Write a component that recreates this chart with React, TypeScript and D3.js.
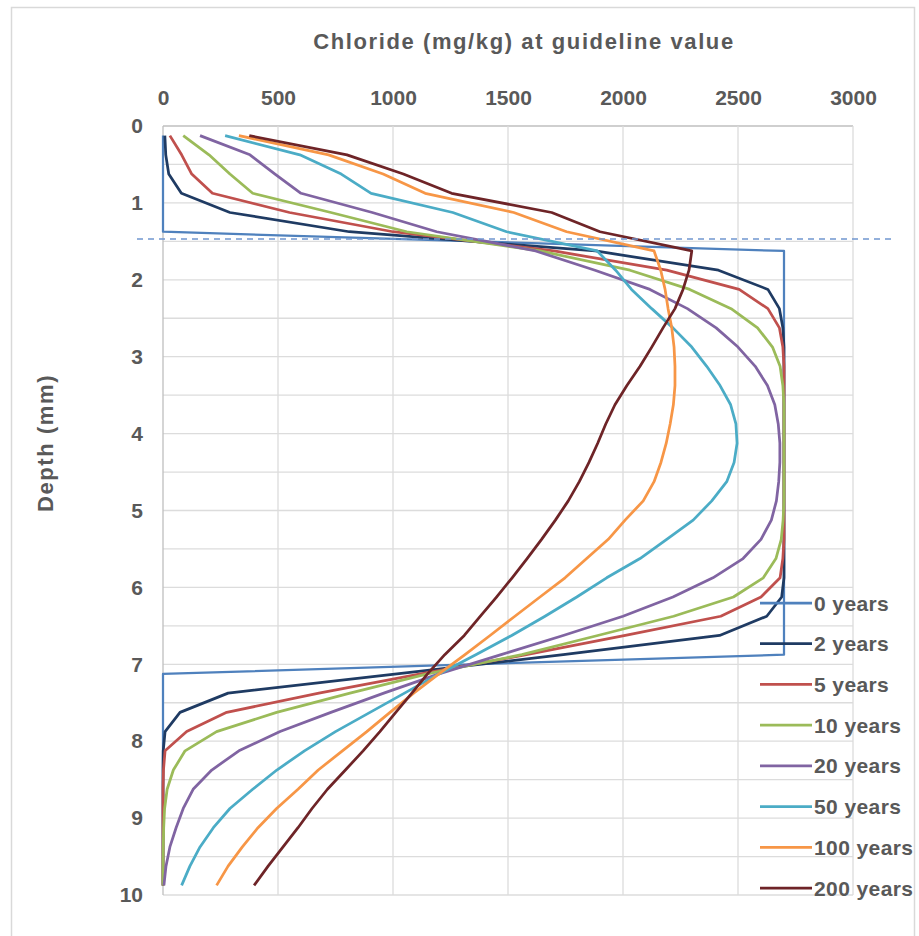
import React, { useRef, useEffect } from "react";
import * as d3 from "d3";

// depth of each calculated layer (mm)
const depths = [
  0.125, 0.375, 0.625, 0.875, 1.125, 1.375, 1.625, 1.875, 2.125, 2.375,
  2.625, 2.875, 3.125, 3.375, 3.625, 3.875, 4.125, 4.375, 4.625, 4.875,
  5.125, 5.375, 5.625, 5.875, 6.125, 6.375, 6.625, 6.875, 7.125, 7.375,
  7.625, 7.875, 8.125, 8.375, 8.625, 8.875, 9.125, 9.375, 9.625, 9.875,
];

// chloride (mg/kg) per layer
const years0 = [
  0, 0, 0, 0, 0, 0, 2700, 2700, 2700, 2700,
  2700, 2700, 2700, 2700, 2700, 2700, 2700, 2700, 2700, 2700,
  2700, 2700, 2700, 2700, 2700, 2700, 2700, 2700, 0, 0,
  0, 0, 0, 0, 0, 0, 0, 0, 0, 0,
];
const years2 = [
  8, 12, 25, 80, 291, 810, 1880, 2415, 2630, 2680,
  2695, 2700, 2700, 2700, 2700, 2700, 2700, 2700, 2700, 2700,
  2700, 2700, 2700, 2700, 2690, 2625, 2420, 1740, 1017, 283,
  74, 9, 1, 0, 0, 0, 0, 0, 0, 0,
];
const years5 = [
  30, 81, 125, 215, 550, 1000, 1700, 2190, 2505, 2630,
  2680, 2695, 2700, 2700, 2700, 2700, 2700, 2700, 2700, 2700,
  2700, 2700, 2695, 2683, 2600, 2425, 2010, 1580, 1120, 678,
  277, 103, 9, 2, 0, 0, 0, 0, 0, 0,
];
const years10 = [
  88, 200, 291, 390, 730, 1060, 1640, 2030, 2290, 2470,
  2585, 2650, 2683, 2695, 2700, 2700, 2700, 2700, 2700, 2700,
  2696, 2688, 2665, 2610, 2480, 2220, 1890, 1560, 1150, 813,
  494, 233, 96, 45, 18, 7, 3, 1, 0, 0,
];
const years20 = [
  161, 378, 487, 600, 910, 1190, 1620, 1878, 2117, 2280,
  2405, 2500, 2575, 2628, 2660, 2675, 2682, 2682, 2677, 2667,
  2645, 2600, 2522, 2391, 2217, 2000, 1740, 1470, 1200, 960,
  730, 509, 330, 212, 131, 88, 57, 30, 13, 4,
];
const years50 = [
  270, 595, 775, 905, 1260, 1494, 1888, 1968, 2037, 2125,
  2217, 2299, 2364, 2422, 2468, 2491, 2496, 2483, 2451, 2386,
  2305, 2190, 2074, 1929, 1799, 1661, 1516, 1360, 1200, 1050,
  900, 750, 615, 495, 390, 291, 219, 161, 117, 81,
];
const years100 = [
  330, 720, 957, 1140, 1525, 1755, 2135, 2164, 2183, 2196,
  2212, 2222, 2226, 2226, 2219, 2205, 2188, 2165, 2135, 2088,
  2009, 1936, 1842, 1748, 1639, 1530, 1422, 1313, 1200, 1090,
  987, 886, 780, 675, 587, 494, 413, 345, 283, 233,
];
const years200 = [
  375, 800, 1045, 1255, 1690, 1900, 2299, 2287, 2261, 2226,
  2174, 2125, 2074, 2017, 1965, 1925, 1890, 1852, 1810, 1762,
  1706, 1646, 1583, 1518, 1450, 1380, 1310, 1225, 1150, 1082,
  1012, 943, 870, 793, 715, 648, 587, 522, 457, 396,
];

const seriesNames = [
  "0 years", "2 years", "5 years", "10 years",
  "20 years", "50 years", "100 years", "200 years",
];
const seriesValues = [years0, years2, years5, years10, years20, years50, years100, years200];
const seriesColors = [
  "#4f81bd", "#1f3b63", "#c0504d", "#9bbb59",
  "#8064a2", "#4bacc6", "#f79646", "#6e2427",
];

const xTicks = [0, 500, 1000, 1500, 2000, 2500, 3000];
const yTicks = [0, 1, 2, 3, 4, 5, 6, 7, 8, 9, 10];
const guidelineDepth = 1.47;

const FONT = "'Liberation Sans', Arial, sans-serif";
const TEXT_COLOR = "#595959";

function drawChart(svgElement: SVGSVGElement, totalWidth: number, totalHeight: number) {
  const margin = { top: 126, right: 66, bottom: 41, left: 163 };
  const plotW = totalWidth - margin.left - margin.right;
  const plotH = totalHeight - margin.top - margin.bottom;

  const svg = d3.select(svgElement);
  svg.selectAll("*").remove();

  // outer chart frame
  svg
    .append("rect")
    .attr("x", 11.5)
    .attr("y", 7.5)
    .attr("width", 903)
    .attr("height", 940)
    .attr("fill", "#fff")
    .attr("stroke", "#d9d9d9")
    .attr("stroke-width", 1.5);

  const content = svg
    .append("g")
    .attr("transform", `translate(${margin.left}, ${margin.top})`);

  const x = d3.scaleLinear().domain([0, 3000]).range([0, plotW]);
  const y = d3.scaleLinear().domain([0, 10]).range([0, plotH]);

  // gridlines
  content
    .append("g")
    .selectAll("line")
    .data(y.ticks(20))
    .enter()
    .append("line")
    .attr("x1", 0)
    .attr("x2", plotW)
    .attr("y1", (d) => y(d))
    .attr("y2", (d) => y(d))
    .attr("stroke", (d) => (d === 0 ? "#bfbfbf" : "#dcdcdc"))
    .attr("stroke-width", 1.3);
  content
    .append("g")
    .selectAll("line")
    .data(x.ticks(6))
    .enter()
    .append("line")
    .attr("x1", (d) => x(d))
    .attr("x2", (d) => x(d))
    .attr("y1", 0)
    .attr("y2", plotH)
    .attr("stroke", (d) => (d === 0 ? "#bfbfbf" : "#dcdcdc"))
    .attr("stroke-width", 1.3);

  // axes (labels only)
  const xAxis = content
    .append("g")
    .call(
      d3
        .axisTop(x)
        .tickValues(xTicks)
        .tickFormat((d) => String(d))
        .tickSize(0)
        .tickPadding(21)
    );
  const yAxis = content
    .append("g")
    .call(
      d3
        .axisLeft(y)
        .tickValues(yTicks)
        .tickFormat((d) => String(d))
        .tickSize(0)
        .tickPadding(20)
    );
  [xAxis, yAxis].forEach((axis) => {
    axis.select(".domain").remove();
    axis
      .selectAll("text")
      .attr("fill", TEXT_COLOR)
      .style("font-family", FONT)
      .style("font-size", "21px")
      .style("font-weight", "bold");
  });

  // legend (drawn before the lines so the curves sit on top)
  const legendY = d3.scalePoint<string>().domain(seriesNames).range([603, 888]);
  const legend = svg.append("g");
  seriesNames.forEach((name, i) => {
    const ly = legendY(name) as number;
    legend
      .append("line")
      .attr("x1", 760)
      .attr("x2", 812)
      .attr("y1", ly)
      .attr("y2", ly)
      .attr("stroke", seriesColors[i])
      .attr("stroke-width", 2.75);
    legend
      .append("text")
      .attr("x", 814)
      .attr("y", ly + 7.5)
      .attr("fill", TEXT_COLOR)
      .style("font-family", FONT)
      .style("font-size", "21px")
      .style("font-weight", "bold")
      .style("letter-spacing", "0.4px")
      .text(name);
  });

  // series
  const line = d3
    .line<number>()
    .x((v) => x(v))
    .y((_, i) => y(depths[i]));
  content
    .append("g")
    .selectAll("path")
    .data(seriesValues)
    .enter()
    .append("path")
    .attr("d", (d) => line(d) as string)
    .attr("fill", "none")
    .attr("stroke", (_, i) => seriesColors[i])
    .attr("stroke-width", (_, i) => (i === 0 ? 2.25 : 2.75))
    .attr("stroke-linejoin", "round");

  // guideline depth marker
  content
    .append("line")
    .attr("x1", x(0) - 26)
    .attr("x2", x(3000) + 42)
    .attr("y1", y(guidelineDepth))
    .attr("y2", y(guidelineDepth))
    .attr("stroke", "#7097cf")
    .attr("stroke-width", 1.6)
    .attr("stroke-dasharray", "6,5");

  // titles
  svg
    .append("text")
    .attr("x", 524)
    .attr("y", 49)
    .attr("text-anchor", "middle")
    .attr("fill", TEXT_COLOR)
    .style("font-family", FONT)
    .style("font-size", "22px")
    .style("font-weight", "bold")
    .style("letter-spacing", "1.6px")
    .text("Chloride (mg/kg) at guideline value");
  svg
    .append("text")
    .attr("transform", "translate(53, 443) rotate(-90)")
    .attr("text-anchor", "middle")
    .attr("fill", TEXT_COLOR)
    .style("font-family", FONT)
    .style("font-size", "22px")
    .style("font-weight", "bold")
    .style("letter-spacing", "1.6px")
    .text("Depth (mm)");
}

const App: React.FunctionComponent = function () {
  const width = 919;
  const height = 936;
  const svgRef = useRef<SVGSVGElement>(null);

  useEffect(() => {
    if (svgRef.current == null) {
      return;
    }
    drawChart(svgRef.current, width, height);
  }, []);

  return (
    <svg
      ref={svgRef}
      width={width}
      height={height}
      style={{ position: "absolute", left: 0, top: 0, background: "#fff" }}
    ></svg>
  );
};

export default App;
